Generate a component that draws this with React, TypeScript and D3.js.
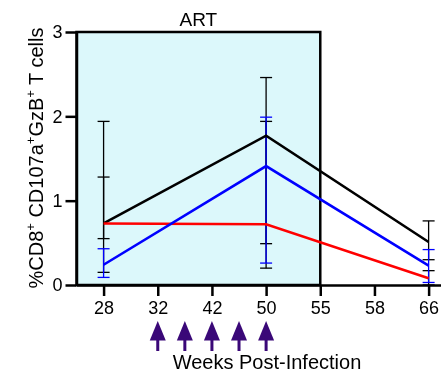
import { useEffect, useRef } from "react";
import * as d3 from "d3";

// weeks shown as evenly spaced categories
const tickWeeks = [28, 32, 42, 50, 55, 58, 66];
const sampleWeeks = [28, 50, 66];
const artEnd = 55;
const artLabel = "ART";
const treatmentWeeks = [32, 37, 42, 46, 50];

const blackMean = [0.73, 1.77, 0.51];
const blackHi = [1.94, 2.46, 0.76];
const blackLo = [0.55, 0.49, 0.3];

const redMean = [0.73, 0.72, 0.08];
const redHi = [1.28, 1.94, 0.17];
const redLo = [0.15, 0.2, 0.0];

const blueMean = [0.24, 1.41, 0.23];
const blueHi = [0.43, 1.99, 0.42];
const blueLo = [0.09, 0.26, 0.03];

const yTicks = [0, 1, 2, 3];

const FONT = "'Liberation Sans', Arial, Helvetica, sans-serif";

const App = () => {
  const svgRef = useRef<SVGSVGElement | null>(null);

  useEffect(() => {
    const svg = d3.select(svgRef.current);
    svg.selectAll("*").remove();

    const width = 441;
    const height = 377;
    svg.attr("width", width).attr("height", height);

    const xPoint = d3
      .scalePoint<number>()
      .domain(tickWeeks)
      .range([76.5, 455.7])
      .padding(0.5);
    // piecewise scale so in-between weeks land between ticks
    const x = d3
      .scaleLinear()
      .domain(tickWeeks)
      .range(tickWeeks.map(w => xPoint(w) as number));
    const y = d3.scaleLinear().domain([0, 3]).range([285, 32]);
    const left = 76.5;

    // ART box
    svg
      .append("rect")
      .attr("x", left)
      .attr("y", y(3))
      .attr("width", x(artEnd) - left)
      .attr("height", y(0) - y(3))
      .attr("fill", "#dcf8fb")
      .attr("stroke", "#000")
      .attr("stroke-width", 2.5);

    svg
      .append("text")
      .attr("x", (left + x(artEnd)) / 2)
      .attr("y", 26)
      .attr("text-anchor", "middle")
      .attr("font-family", FONT)
      .attr("font-size", 19)
      .text(artLabel);

    // Axes
    const yAxis = svg
      .append("g")
      .attr("transform", `translate(${left},0)`)
      .call(
        d3
          .axisLeft(y)
          .tickValues(yTicks)
          .tickFormat(d3.format("d"))
          .tickSizeInner(11)
          .tickSizeOuter(0)
          .tickPadding(3)
      );
    const xAxis = svg
      .append("g")
      .attr("transform", `translate(0,${y(0)})`)
      .call(d3.axisBottom(xPoint).tickSizeInner(11).tickSizeOuter(0).tickPadding(5));

    [yAxis, xAxis].forEach(a => {
      a.selectAll("path,line").attr("stroke", "#000").attr("stroke-width", 2.5);
      a.selectAll("text")
        .attr("font-family", FONT)
        .attr("font-size", 18)
        .attr("fill", "#000");
    });

    // Series
    const series = [
      { color: "#000", mean: blackMean, hi: blackHi, lo: blackLo },
      { color: "#ff0000", mean: redMean, hi: redHi, lo: redLo, barColor: "#000" },
      { color: "#0000ff", mean: blueMean, hi: blueHi, lo: blueLo }
    ];

    const line = d3
      .line<number>()
      .x((_, i) => x(sampleWeeks[i]))
      .y(d => y(d));

    const capW = 6;
    series.forEach(s => {
      const bc = s.barColor ?? s.color;
      const g = svg.append("g");
      sampleWeeks.forEach((w, i) => {
        const cx = x(w);
        g.append("line")
          .attr("x1", cx)
          .attr("x2", cx)
          .attr("y1", y(s.hi[i]))
          .attr("y2", y(s.lo[i]))
          .attr("stroke", bc)
          .attr("stroke-width", 1.3);
        [s.hi[i], s.lo[i]].forEach(v => {
          g.append("line")
            .attr("x1", cx - capW)
            .attr("x2", cx + capW)
            .attr("y1", y(v))
            .attr("y2", y(v))
            .attr("stroke", bc)
            .attr("stroke-width", 1.3);
        });
      });
    });

    series.forEach(s => {
      svg
        .append("path")
        .datum(s.mean)
        .attr("d", line)
        .attr("fill", "none")
        .attr("stroke", s.color)
        .attr("stroke-width", 2.6);
    });

    // Treatment arrows
    const arrows = svg.append("g").attr("fill", "#3a0878").attr("stroke", "#3a0878");
    treatmentWeeks.forEach(w => {
      const ax = x(w);
      arrows
        .append("path")
        .attr("d", `M${ax},321 L${ax - 8},340.5 L${ax + 8},340.5 Z`)
        .attr("stroke", "none");
      arrows
        .append("line")
        .attr("x1", ax)
        .attr("x2", ax)
        .attr("y1", 338)
        .attr("y2", 351)
        .attr("stroke-width", 3);
    });

    svg
      .append("text")
      .attr("x", 267)
      .attr("y", 369)
      .attr("text-anchor", "middle")
      .attr("font-family", FONT)
      .attr("font-size", 20)
      .text("Weeks Post-Infection");

    // Y label with superscripts
    const yl = svg
      .append("text")
      .attr("transform", "translate(43,158) rotate(-90)")
      .attr("text-anchor", "middle")
      .attr("font-family", FONT)
      .attr("font-size", 20);
    const parts: [string, boolean][] = [
      ["%CD8", false],
      ["+", true],
      [" CD107a", false],
      ["+", true],
      ["GzB", false],
      ["+", true],
      [" T cells", false]
    ];
    let shift = 0;
    parts.forEach(([t, sup]) => {
      const target = sup ? -8 : 0;
      yl.append("tspan")
        .attr("font-size", sup ? 13 : 20)
        .attr("dy", target - shift)
        .text(t);
      shift = target;
    });
  }, []);

  return (
    <div style={{ position: "fixed", left: 0, top: 0 }}>
      <svg ref={svgRef}></svg>
    </div>
  );
};

export default App;
